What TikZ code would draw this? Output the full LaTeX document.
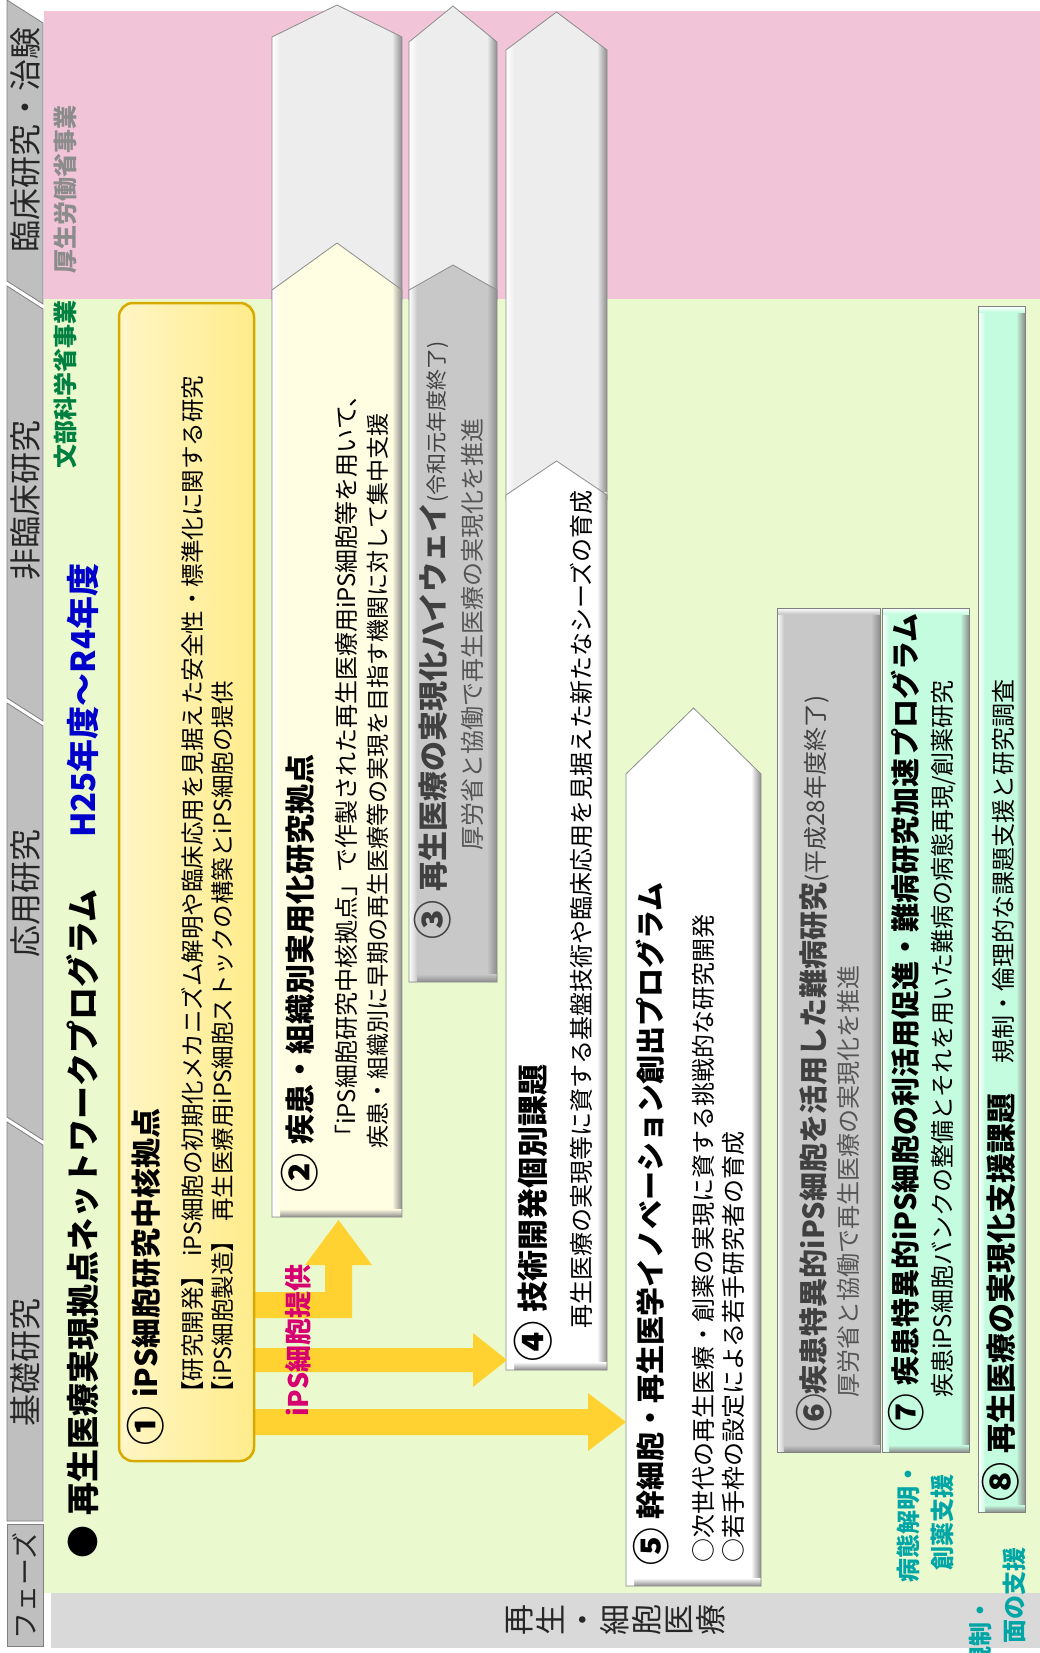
\documentclass[tikz,border=0pt]{standalone}
\usepackage{fontspec}
\usepackage{graphicx}
\setmainfont{Noto Sans CJK JP}
\usetikzlibrary{calc}
\definecolor{pinkbg}{RGB}{242,196,216}
\definecolor{greenbg}{RGB}{234,250,206}
\definecolor{bandgrey}{RGB}{217,217,217}
\definecolor{tabgrey}{RGB}{191,191,191}
\definecolor{tabline}{RGB}{128,128,128}
\definecolor{yel1}{RGB}{255,236,139}
\definecolor{yelborder}{RGB}{214,170,0}
\definecolor{cream}{RGB}{255,253,226}
\definecolor{grey3}{RGB}{200,200,200}
\definecolor{lightarr}{RGB}{237,237,237}
\definecolor{mint}{RGB}{196,252,224}
\definecolor{arrowyel}{RGB}{255,210,50}
\definecolor{magtext}{RGB}{214,0,112}
\definecolor{tealtext}{RGB}{0,166,166}
\definecolor{bluetext}{RGB}{0,0,204}
\definecolor{greentext}{RGB}{0,128,64}
\definecolor{greytext}{RGB}{140,140,140}
\definecolor{darktext}{RGB}{64,64,64}
\definecolor{midtext}{RGB}{85,85,85}

\newcommand\fs[1]{\fontsize{#1pt}{#1pt}\selectfont}
\newcommand\cn[1]{\raisebox{-0.12em}{\scalebox{1.3}{#1}}}

\newcommand\pentbox[6]{%
 \begin{scope}
 \clip (#1,#5) -- (#1,#4) -- ({(#1+#2)/2},#3) -- (#2,#4) -- (#2,#5) -- cycle;
 \fill[#6] (#1,#3) rectangle (#2,#5);
 \shade[left color=#6, right color=black!45] ({#2-10},#3) rectangle (#2,#5);
 \shade[top color=#6, bottom color=black!45] (#1,{#5-8}) rectangle (#2,#5);
 \shade[left color=white, right color=#6] (#1,#3) rectangle ({#1+8},#5);
 \end{scope}
 \draw[black!45, line width=0.8pt] (#1,#5) -- (#1,#4) -- ({(#1+#2)/2},#3) -- (#2,#4) -- (#2,#5) -- cycle;
}
\newcommand\rectbox[5]{%
 \begin{scope}
 \clip (#1,#2) rectangle (#3,#4);
 \fill[#5] (#1,#2) rectangle (#3,#4);
 \shade[left color=#5, right color=black!45] ({#3-9},#2) rectangle (#3,#4);
 \shade[top color=#5, bottom color=black!45] (#1,{#4-7}) rectangle (#3,#4);
 \shade[left color=white, right color=#5] (#1,#2) rectangle ({#1+7},#4);
 \shade[top color=white, bottom color=#5] (#1,#2) rectangle (#3,{#2+6});
 \end{scope}
 \draw[black!50, line width=0.8pt] (#1,#2) rectangle (#3,#4);
}

\tikzset{
  rt/.style={rotate=90, anchor=west, inner sep=0pt},
  ttl/.style={rt, font=\bfseries\fs{30}},
  bod/.style={rt, font=\fs{23}},
  phase/.style={rotate=90, inner sep=0pt, font=\fs{32}, text=black!85},
  tab/.style={fill=tabgrey, draw=tabline, line width=0.8pt},
  yarrow/.style={fill=arrowyel},
}

\begin{document}
\begin{tikzpicture}[x=1pt,y=-1pt]
\useasboundingbox (0,0) rectangle (1040,1653);
\clip (0,0) rectangle (1040,1653);
\fill[white] (0,0) rectangle (1040,1653);

% backgrounds
\fill[pinkbg] (44,11) rectangle (1040,299);
\fill[greenbg] (44,299) rectangle (1040,1593);
\fill[bandgrey] (51,1593) rectangle (1040,1648);

% phase tabs
\path[tab] (7,0) -- (43,23) -- (43,304) -- (7,281) -- cycle;
\path[tab] (7,286) -- (43,309) -- (43,721) -- (7,698) -- cycle;
\path[tab] (7,703) -- (43,726) -- (43,1140) -- (7,1117) -- cycle;
\path[tab] (7,1122) -- (43,1145) -- (43,1521) -- (7,1521) -- cycle;
\path[tab] (7,1524) rectangle (43,1646);
\node[phase] (ph1) at (25,140) {臨床研究・治験};
\node[phase] (ph2) at (25,500) {非臨床研究};
\node[phase] (ph3) at (25,893) {応用研究};
\node[phase] (ph4) at (25,1362) {基礎研究};
\node[phase, font=\fs{27}] (ph5) at (25,1586) {フェーズ};

% band label
\node[rotate=90, inner sep=0pt, font=\fs{31}, align=center, text=black!85] (band) at (616,1620)
  {再\\[1pt]生\\[1pt]・\\[1pt]細\\[1pt]胞\\[1pt]医\\[1pt]療};

% upper light arrows (clinical extension)
\pentbox{272}{402}{5}{37}{300}{lightarr}
\pentbox{409}{497}{6}{42}{300}{lightarr}
\pentbox{506}{607}{12}{50}{500}{lightarr}

% program shapes
\pentbox{272}{402}{243}{290}{1217}{cream}
\pentbox{409}{497}{265}{290}{982}{grey3}
\pentbox{506}{607}{461}{495}{1370}{white}
\pentbox{626}{761}{708}{774}{1586}{white}
\rectbox{777}{608}{880}{1452}{grey3}
\rectbox{882}{608}{969}{1452}{mint}
\rectbox{978}{306}{1025}{1512}{mint}

% yellow arrows (iPS cell supply)
\coordinate (tip2) at (338.5,1220);
\coordinate (tip4) at (507,1360);
\coordinate (tip5) at (626,1422);
\fill[yarrow] (250,1292) -- (325,1292) -- (325,1265) -- (305,1265) -- (tip2) -- (372,1265) -- (352,1265) -- (352,1318) -- (250,1318) -- cycle;
\fill[yarrow] (250,1348) -- (473,1348) -- (473,1333) -- (tip4) -- (473,1387) -- (473,1372) -- (250,1372) -- cycle;
\fill[yarrow] (250,1409) -- (588,1409) -- (588,1393) -- (tip5) -- (588,1451) -- (588,1435) -- (250,1435) -- cycle;

% box 1
\shade[rounded corners=14pt, left color=yel1!50!white, right color=yel1] (118,302) rectangle (255,1462);
\draw[yelborder, line width=2.5pt, rounded corners=14pt] (119,303) rectangle (254,1461);
\draw[yel1!40!white, line width=3pt] (125,318) -- (125,1446);

% header texts
\node[rt, font=\bfseries\fs{33}] (title) at (83,1559) {●\hspace{0.3em}再生医療実現拠点ネットワークプログラム};
\node[rt, font=\bfseries\fs{33}, text=bluetext] (years) at (83,838) {H25年度～R4年度};
\node[rt, font=\bfseries\fs{24}, text=greentext] (mext) at (65,469) {文部科学省事業};
\node[rt, font=\bfseries\fs{24}, text=greytext] (mhlw) at (65,274) {厚生労働省事業};

% box 1 texts
\node[ttl] (t1) at (146,1446) {\cn{①}\hspace{0.3em}iPS細胞研究中核拠点};
\node[bod, font=\fs{23.5}] (t1a) at (193,1405) {【研究開発】\hspace{0.3em}iPS細胞の初期化メカニズム解明や臨床応用を見据えた安全性・標準化に関する研究};
\node[bod, font=\fs{23.5}] (t1b) at (223,1405) {【iPS細胞製造】\hspace{0.3em}再生医療用iPS細胞ストックの構築とiPS細胞の提供};

% box 2 texts
\node[ttl] (t2) at (300,1193) {\cn{②}\hspace{0.3em}疾患・組織別実用化研究拠点};
\node[bod, font=\fs{24}] (t2a) at (346,1149) {「iPS細胞研究中核拠点」で作製された再生医療用iPS細胞等を用いて、};
\node[bod] (t2b) at (378,1149) {疾患・組織別に早期の再生医療等の実現を目指す機関に対して集中支援};

% box 3 texts
\node[ttl, text=darktext] (t3) at (433,940) {\cn{③}\hspace{0.3em}再生医療の実現化ハイウェイ{\mdseries\fs{21}(令和元年度終了)}};
\node[bod, font=\fs{24}, text=midtext] (t3a) at (472,851) {厚労省と協働で再生医療の実現化を推進};

% box 4 texts
\node[ttl, font=\bfseries\fs{31}] (t4) at (533,1362) {\cn{④}\hspace{0.3em}技術開発個別課題};
\node[bod, font=\fs{24}] (t4a) at (581,1329) {再生医療の実現等に資する基盤技術や臨床応用を見据えた新たなシーズの育成};

% iPS cell supply label
\node[rt, font=\bfseries\fs{27}, text=magtext] (ips) at (298,1417) {iPS細胞提供};

% box 5 texts
\node[ttl, font=\bfseries\fs{29}] (t5) at (651,1566) {\cn{⑤}\hspace{0.3em}幹細胞・再生医学イノベーション創出プログラム};
\node[bod, font=\fs{24}] (t5a) at (703,1563) {○次世代の再生医療・創薬の実現に資する挑戦的な研究開発};
\node[bod, font=\fs{24}] (t5b) at (733,1563) {○若手枠の設定による若手研究者の育成};

% box 6 texts
\node[ttl, font=\bfseries\fs{29}, text=darktext] (t6) at (814,1432) {\cn{⑥}疾患特異的iPS細胞を活用した難病研究{\mdseries\fs{24}(平成28年度終了)}};
\node[bod, font=\fs{24}, text=midtext] (t6a) at (848,1398) {厚労省と協働で再生医療の実現化を推進};

% box 7 texts
\node[ttl, font=\bfseries\fs{29}] (t7) at (906,1432) {\cn{⑦}\hspace{0.3em}疾患特異的iPS細胞の利活用促進・難病研究加速プログラム};
\node[bod, font=\fs{24}] (t7a) at (943,1398) {疾患iPS細胞バンクの整備とそれを用いた難病の病態再現/創薬研究};

% box 8 texts
\node[ttl] (t8) at (1001,1502) {\cn{⑧}\hspace{0.3em}再生医療の実現化支援課題\hspace{1em}{\mdseries\fs{24}規制・倫理的な課題支援と研究調査}};

% side labels
\node[rotate=90, inner sep=0pt, align=center, font=\bfseries\fontsize{24pt}{34pt}\selectfont, text=tealtext] (drug) at (925,1522) {病態解明・\\創薬支援};
\node[rotate=90, anchor=east, inner sep=0pt, font=\bfseries\fs{24}, text=tealtext] (reg1) at (980,1598) {規制・};
\node[rotate=90, anchor=east, inner sep=0pt, font=\bfseries\fs{24}, text=tealtext] (reg2) at (1014,1547) {面の支援};
\end{tikzpicture}
\end{document}
